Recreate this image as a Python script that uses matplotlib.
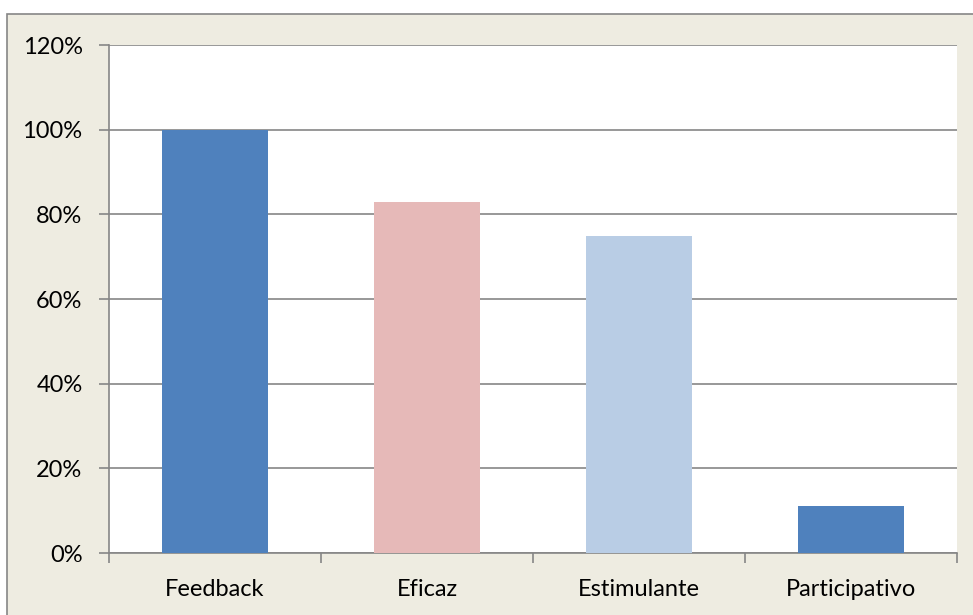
import matplotlib
matplotlib.use("Agg")
import matplotlib.pyplot as plt
from matplotlib.patches import Rectangle
from matplotlib.ticker import FuncFormatter

categorias = ["Feedback", "Eficaz", "Estimulante", "Participativo"]
valores = [1.00, 0.83, 0.75, 0.11]
colores = ["#4F81BD", "#E6B9B8", "#B9CDE5", "#4F81BD"]

plt.rcParams["font.family"] = ["Lato", "DejaVu Sans"]

W, H = 973, 615
fig = plt.figure(figsize=(W / 100, H / 100), dpi=100)
fig.patch.set_facecolor("white")

# fondo beige del grafico con borde gris
fig.patches.append(Rectangle((7 / W, -0.01), 1.0, 1 - 14 / H + 0.01,
                             transform=fig.transFigure, facecolor="#EEECE1",
                             edgecolor="#868686", linewidth=1.2, zorder=-1))

x0, x1, y0, y1 = 109, 957, 45, 553
ax = fig.add_axes([x0 / W, 1 - y1 / H, (x1 - x0) / W, (y1 - y0) / H])
ax.set_facecolor("white")

pos = range(len(categorias))
ax.bar(pos, valores, width=0.5, color=colores, zorder=3)

ax.set_xlim(-0.5, len(categorias) - 0.5)
ax.set_ylim(0, 1.2)
ax.set_yticks([0, 0.2, 0.4, 0.6, 0.8, 1.0, 1.2])
ax.yaxis.set_major_formatter(FuncFormatter(lambda v, p: f"{v * 100:.0f}%"))
ax.set_xticks(list(pos))
ax.set_xticklabels(categorias)
ax.set_xticks([i - 0.5 for i in range(len(categorias) + 1)], minor=True)

ax.grid(axis="y", color="#868686", linewidth=1.2, zorder=1)
for s in ["top", "right"]:
    ax.spines[s].set_visible(False)
for s in ["left", "bottom"]:
    ax.spines[s].set_color("#868686")
    ax.spines[s].set_linewidth(1.2)

ax.tick_params(axis="y", length=7, color="#868686", width=1.2, labelsize=17, pad=12)
ax.tick_params(axis="x", which="major", length=0, labelsize=17, pad=19)
ax.tick_params(axis="x", which="minor", length=7, color="#868686", width=1.2)

fig.savefig("out.png", dpi=100)
